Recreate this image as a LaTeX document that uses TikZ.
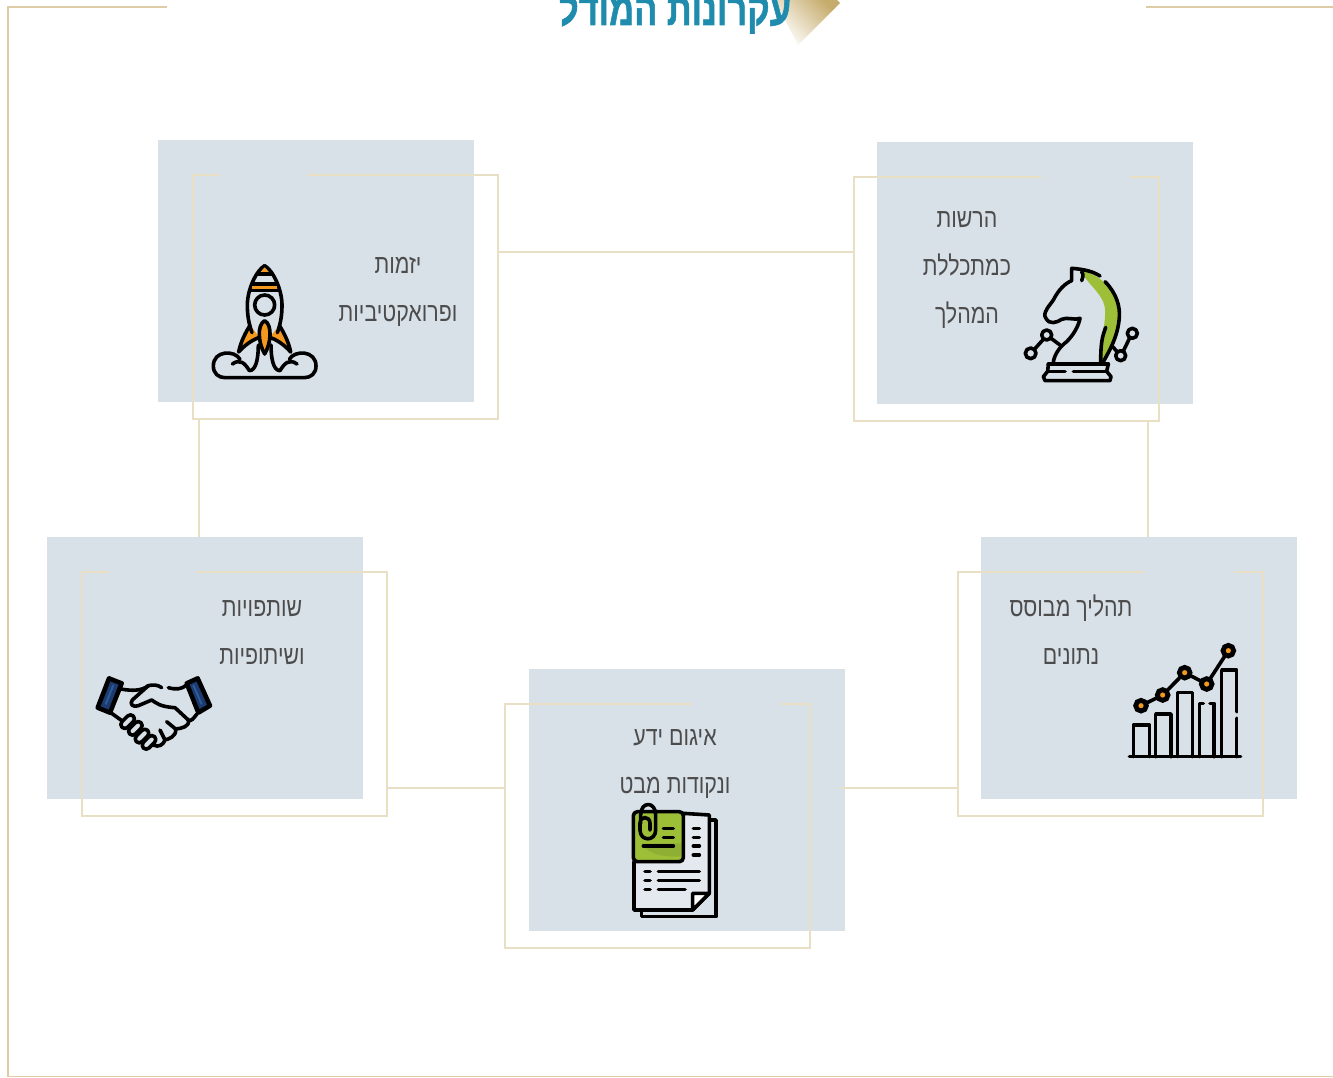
\documentclass[tikz,border=0pt]{standalone}
\usepackage{fontspec}
\usetikzlibrary{positioning,calc}
\TeXXeTstate=1
\newfontfamily\hebfont[Script=Hebrew,FakeStretch=0.80]{Liberation Sans}
\newfontfamily\hebtitle[Script=Hebrew,FakeStretch=0.76,FakeBold=1.2]{Liberation Sans Bold}
\newcommand{\heb}[1]{\beginR #1\endR}
\definecolor{cardblue}{HTML}{D8E0E8}
\definecolor{framegold}{HTML}{E8DFC4}
\definecolor{outergold}{HTML}{DCCDA6}
\definecolor{shadegold}{HTML}{C6AC6C}
\definecolor{titleblue}{HTML}{1F8CAE}
\definecolor{iconorange}{HTML}{F39A1E}
\definecolor{icongreen}{HTML}{9DBF38}
\definecolor{iconshade}{HTML}{8FAF34}
\definecolor{iconnavy}{HTML}{1D3B70}
\definecolor{iconsteel}{HTML}{2C5C96}
\tikzstyle{cardbox} = [rectangle, fill=cardblue, minimum width=237pt, minimum height=196.5pt, inner sep=0pt, outer sep=0pt]
\tikzstyle{cardframe} = [rectangle, draw=framegold, line width=1.5pt, minimum width=228.75pt, minimum height=183pt, inner sep=0pt, outer sep=0pt]
\tikzstyle{cardgap} = [draw=cardblue, line width=2pt]
\tikzstyle{link} = [draw=framegold, line width=1.5pt]
\tikzstyle{cardtext} = [align=center, inner sep=0pt, text=black!70, font=\hebfont\fontsize{20}{36}\selectfont]
\tikzstyle{outer} = [draw=outergold, line width=1pt]
\tikzstyle{icon} = [draw=black, line width=2.7pt, line cap=round, line join=round]
\tikzstyle{zoomed} = [x=.25pt, y=-.25pt]

\begin{document}
\begin{tikzpicture}[x=.75pt, y=-.75pt]
\useasboundingbox (0,0) rectangle (1333,1077);
\clip (0,0) rectangle (1333,1077);

% outer border and title
\coordinate (tl) at (167,7);
\coordinate (tr) at (1146,7);
\coordinate (bl) at (8,1076.5);
\coordinate (br) at (1333,1076.5);
\draw[outer] (tl) -| (bl) -- (br);
\draw[outer] (tr) -- (1333,7);
\shade[shading=axis, top color=shadegold, bottom color=white, shading angle=-45]
  (775,0) -- (837,0) -- (840,3) -- (798,45) -- cycle;
\node[inner sep=0pt, text=titleblue, font=\hebtitle\fontsize{34}{40}\selectfont, anchor=base] (title) at (675,25) {\heb{עקרונות המודל}};

% cards
\node [cardbox] (rocket) at (316,271) {};
\node [cardbox, right=302.25pt of rocket, yshift=-1.5pt] (knight) {};
\node [cardbox] (hands) at (205,668) {};
\node [cardbox] (docs) at (687,800) {};
\node [cardbox, right=102pt of docs, yshift=99pt] (chart) {};

\node [cardframe, xshift=22pt, yshift=-19.5pt] (rocketF) at (rocket) {};
\node [cardframe, xshift=-21.4pt, yshift=-19.5pt] (knightF) at (knight) {};
\node [cardframe, xshift=21.8pt, yshift=-19.5pt] (handsF) at (hands) {};
\node [cardframe, xshift=-22pt, yshift=-19.4pt] (docsF) at (docs) {};
\node [cardframe, xshift=-21.4pt, yshift=-19.5pt] (chartF) at (chart) {};

\draw[cardgap] ([xshift=20.25pt]rocketF.north west) -- +(65.25pt,0);
\draw[cardgap] ([xshift=20.25pt]handsF.north west) -- +(65.25pt,0);
\draw[cardgap] ([xshift=-21.75pt]knightF.north east) -- +(-66.75pt,0);
\draw[cardgap] ([xshift=-21.75pt]docsF.north east) -- +(-66.75pt,0);
\draw[cardgap] ([xshift=-21.75pt]chartF.north east) -- +(-66.75pt,0);

% connectors
\coordinate (ltop) at ([shift={(0,77)}]rocketF.north east);
\coordinate (lleft) at ([shift={(6,0)}]rocketF.south west);
\coordinate (lright) at ([shift={(-11,0)}]knightF.south east);
\coordinate (lbotl) at ([shift={(0,216)}]handsF.north east);
\coordinate (lbotr) at ([shift={(-5,-12)}]docs.east);
\path[link] (ltop) -- (ltop -| knightF.west);
\path[link] (lleft) -- (lleft |- hands.north);
\path[link] (lright) -- (lright |- chart.north);
\path[link] (lbotl) -- (lbotl -| docsF.west);
\path[link] (lbotr) -- (lbotr -| chartF.west);

% labels
\node[cardtext] (rocketT) at (398,292) {\heb{יזמות}\\\heb{ופרואקטיביות}};
\node[cardtext] (knightT) at (967,270) {\heb{הרשות}\\\heb{כמתכללת}\\\heb{המהלך}};
\node[cardtext] (handsT) at (262,633) {\heb{שותפויות}\\\heb{ושיתופיות}};
\node[cardtext] (docsT) at (675,764) {\heb{איגום ידע}\\\heb{ונקודות מבט}};
\node[cardtext] (chartT) at (1071,630) {\heb{תהליך מבוסס}\\\heb{נתונים}};

% rocket icon
\begin{scope}[shift={(190,250)}, zoomed]
\fill[iconorange] (180,226) .. controls (160,258) and (150,285) .. (146,306) .. controls (165,284) and (190,268) .. (209,262) -- cycle;
\fill[iconorange] (268,226) .. controls (288,258) and (298,285) .. (302,306) .. controls (283,284) and (258,268) .. (239,262) -- cycle;
\draw[icon] (180,226) .. controls (160,258) and (150,285) .. (146,306) .. controls (165,284) and (190,268) .. (209,262);
\draw[icon] (268,226) .. controls (288,258) and (298,285) .. (302,306) .. controls (283,284) and (258,268) .. (239,262);
\draw[icon] (224,47) .. controls (250,62) and (276,120) .. (276,165) .. controls (276,195) and (272,220) .. (262,248);
\draw[icon] (224,47) .. controls (198,62) and (172,120) .. (172,165) .. controls (172,195) and (176,220) .. (186,248);
\fill[iconorange] (224,52) -- (209,70) -- (239,70) -- cycle;
\fill[iconorange] (187,107) rectangle (261,118);
\draw[icon] (205,72) -- (243,72);
\draw[icon] (188,102) -- (260,102);
\draw[icon] (183,122) -- (265,122);
\draw[icon] (224,165) circle (30);
\filldraw[fill=iconorange, icon] (224,212) .. controls (200,225) and (205,280) .. (224,312) .. controls (243,280) and (248,225) .. (224,212) -- cycle;
\draw[icon] (205,285) .. controls (205,325) and (198,362) .. (178,362) .. controls (165,340) and (150,325) .. (127,342);
\draw[icon] (243,285) .. controls (243,325) and (250,362) .. (270,362) .. controls (283,340) and (298,325) .. (321,342);
\draw[icon] (150,328) .. controls (135,300) and (70,300) .. (70,348) .. controls (70,370) and (85,383) .. (105,383) -- (343,383) .. controls (363,383) and (378,370) .. (378,348) .. controls (378,300) and (313,300) .. (298,328);
\end{scope}

% knight icon
\begin{scope}[shift={(1010,250)}, zoomed]
\fill[icongreen] (212,62) .. controls (270,70) and (330,130) .. (328,195) .. controls (326,250) and (300,300) .. (278,332) .. controls (262,290) and (292,220) .. (284,170) .. controls (277,130) and (230,100) .. (212,62) -- cycle;
\draw[icon] (130,335) .. controls (135,310) and (150,290) .. (170,275) .. controls (190,255) and (205,230) .. (210,205) .. controls (195,212) and (170,200) .. (155,208) .. controls (140,218) and (118,225) .. (108,205) .. controls (95,190) and (120,165) .. (130,150) .. controls (145,120) and (165,100) .. (185,92) -- (185,55) .. controls (225,58) and (250,65) .. (270,78);
\draw[icon] (215,65) .. controls (222,75) and (218,85) .. (215,92);
\draw[icon] (285,95) .. controls (320,130) and (330,170) .. (328,200) .. controls (325,255) and (300,300) .. (280,335);
\draw[icon] (287,232) .. controls (282,250) and (272,260) .. (272,335);
\draw[icon] (115,342) -- (295,342);
\draw[icon] (115,342) -- (113,364) -- (100,380) -- (105,392) -- (300,392) -- (303,380) -- (290,364) -- (295,342);
\draw[icon] (115,364) -- (165,364);
\draw[icon] (190,364) -- (290,364);
\draw[icon] (110,255) circle (15);
\draw[icon] (62,310) circle (16);
\draw[icon] (367,250) circle (15);
\draw[icon] (332,317) circle (15);
\draw[icon] (73,298) -- (100,268);
\draw[icon] (123,265) -- (150,285);
\draw[icon] (359,264) -- (340,303);
\draw[icon] (322,306) -- (308,290);
\end{scope}

% handshake icon
\begin{scope}[shift={(85,665)}, zoomed]
\filldraw[fill=iconnavy, icon, line width=3.4pt] (72,40) -- (110,55) -- (75,143) -- (38,128) -- cycle;
\filldraw[fill=iconnavy, icon, line width=3.4pt] (338,40) -- (305,55) -- (340,143) -- (375,122) -- cycle;
\draw[iconsteel, line width=1.5pt] (85,60) -- (62,118);
\draw[iconsteel, line width=1.5pt] (325,60) -- (350,118);
\draw[icon] (108,72) .. controls (140,78) and (170,78) .. (190,62) .. controls (205,58) and (220,60) .. (230,68);
\draw[icon] (250,68) .. controls (275,75) and (290,72) .. (305,60);
\draw[icon] (190,62) -- (142,105) .. controls (132,118) and (145,128) .. (160,122) -- (200,105) .. controls (215,115) and (225,125) .. (270,128) -- (310,165) .. controls (320,170) and (325,160) .. (335,148);
\draw[icon] (80,145) -- (112,168);
\draw[icon] (310,165) .. controls (315,185) and (290,190) .. (272,192) .. controls (275,215) and (250,222) .. (240,225) .. controls (235,240) and (220,248) .. (205,240);
\draw[icon] (272,192) -- (245,170);
\draw[icon] (240,225) -- (225,195);
\foreach \fx/\fy in {128/170, 151/190, 171/213, 192/232} {
  \draw[icon, rounded corners=3pt, rotate around={45:(\fx,\fy)}] (\fx-24,\fy-12) rectangle (\fx+24,\fy+12);
}
\end{scope}

% documents icon
\begin{scope}[shift={(620,795)}, zoomed]
\draw[icon] (270,75) -- (288,75) -- (288,365) -- (65,365) -- (65,345);
\filldraw[fill=white!30!cardblue, icon] (42,200) -- (42,345) -- (218,345) -- (268,295) -- (268,60) -- (190,55) -- cycle;
\filldraw[fill=white, icon] (218,345) -- (218,295) -- (268,295) -- cycle;
\fill[icongreen] (40,50) rectangle (190,200);
\fill[iconshade] (65,145) .. controls (90,185) and (140,185) .. (190,185) -- (190,145) -- cycle;
\draw[icon, rounded corners=3pt] (40,50) rectangle (190,200);
\draw[icon] (62,85) -- (62,60) .. controls (62,18) and (107,18) .. (107,60) -- (107,105) .. controls (107,140) and (60,140) .. (60,105) -- (60,85) .. controls (60,62) and (90,62) .. (90,85) -- (90,105);
\draw[icon] (130,100) -- (160,100);
\draw[icon] (130,127) -- (160,127);
\draw[icon] (70,153) -- (160,153);
\draw[icon] (220,100) -- (238,100);
\draw[icon] (220,127) -- (238,127);
\draw[icon] (220,153) -- (238,153);
\draw[icon] (220,180) -- (238,180);
\draw[icon] (75,230) -- (90,230);
\draw[icon] (115,230) -- (238,230);
\draw[icon] (75,257) -- (90,257);
\draw[icon] (115,257) -- (238,257);
\draw[icon] (75,284) -- (90,284);
\draw[icon] (115,284) -- (195,284);
\end{scope}

% chart icon
\begin{scope}[shift={(1120,635)}, zoomed]
\draw[icon] (28,365) -- (362,365);
\draw[icon] (40,365) -- (40,270) -- (88,270) -- (88,365);
\draw[icon] (107,365) -- (107,237) -- (153,237) -- (153,365);
\draw[icon] (172,365) -- (172,172) -- (217,172) -- (217,365);
\draw[icon] (238,365) -- (238,205) -- (250,205);
\draw[icon] (270,205) -- (282,205) -- (282,365);
\draw[icon] (305,365) -- (305,105) -- (350,105) -- (350,230);
\draw[icon] (350,250) -- (350,365);
\draw[icon] (63,212) -- (128,180) -- (194,113) -- (260,147) -- (325,47);
\foreach \px/\py in {63/212, 128/180, 194/113, 260/147, 325/47} {
  \filldraw[fill=iconorange, draw=black, line width=3.6pt] (\px,\py) circle (16);
}
\end{scope}
\end{tikzpicture}
\end{document}
